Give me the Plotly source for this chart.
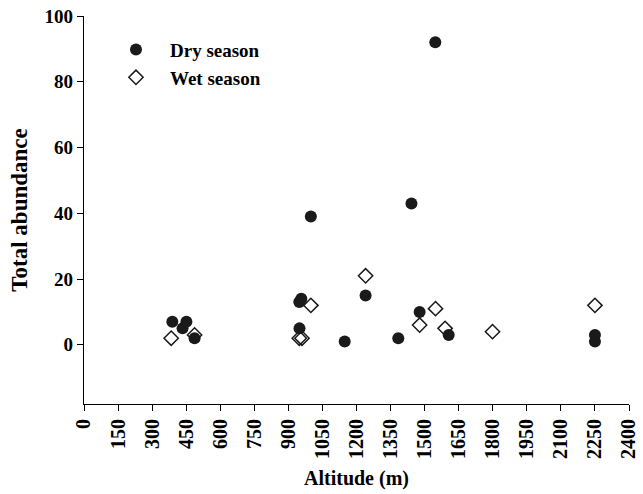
import plotly.graph_objects as go

dry_alt = [389, 434, 451, 487, 948, 957, 949, 999, 1148, 1240, 1384, 1442, 1478, 1547, 1606, 2250, 2250]
dry_abund = [7, 5, 7, 2, 13, 14, 5, 39, 1, 15, 2, 43, 10, 92, 3, 3, 1]

wet_alt = [384, 487, 948, 960, 999, 1240, 1478, 1548, 1590, 1799, 2250]
wet_abund = [2, 3, 2, 2, 12, 21, 6, 11, 5, 4, 12]

x_ticks = list(range(0, 2401, 150))
y_ticks = [0, 20, 40, 60, 80, 100]

FONT = "Liberation Serif"

fig = go.Figure()
fig.add_trace(go.Scatter(
    x=dry_alt, y=dry_abund, mode="markers", name="<b>Dry season</b>",
    marker=dict(symbol="circle", size=12, color="#1a1a1a", line=dict(width=0)),
))
fig.add_trace(go.Scatter(
    x=wet_alt, y=wet_abund, mode="markers", name="<b>Wet season</b>",
    marker=dict(symbol="diamond-open", size=11, color="#1a1a1a", line=dict(width=1.5)),
))

fig.update_layout(
    width=643, height=494,
    margin=dict(l=84, r=14, t=16, b=90),
    paper_bgcolor="white", plot_bgcolor="white",
    font=dict(family=FONT, color="black", size=18),
    showlegend=True,
    legend=dict(x=0.033, y=0.962, xanchor="left", yanchor="top",
                bgcolor="rgba(0,0,0,0)", font=dict(size=19, family=FONT),
                itemwidth=58, tracegroupgap=0),
    xaxis=dict(
        range=[0, 2400], tickmode="array", tickvals=x_ticks,
        ticktext=[f"<b>{v}</b>" for v in x_ticks],
        tickangle=-90, ticks="outside", ticklen=6, tickcolor="black", tickwidth=1.2,
        showline=True, linecolor="black", linewidth=1.2, showgrid=False, zeroline=False,
        tickfont=dict(size=20, family=FONT), automargin=False, ticklabeloverflow="allow",
        title=dict(text="<b>Altitude (m)</b>", font=dict(size=20, family=FONT), standoff=12),
    ),
    yaxis=dict(
        range=[-18, 100], tickmode="array", tickvals=y_ticks,
        ticktext=[f"<b>{v}</b>" for v in y_ticks],
        ticks="outside", ticklen=6, tickcolor="black", tickwidth=1.2,
        showline=True, linecolor="black", linewidth=1.2, showgrid=False, zeroline=False,
        tickfont=dict(size=19, family=FONT), automargin=False,
        title=dict(text="<b>Total abundance</b>", font=dict(size=23, family=FONT), standoff=10),
    ),
)

fig.write_html("out.html", config={"displayModeBar": False},
               post_script="document.body.style.margin='0';")
